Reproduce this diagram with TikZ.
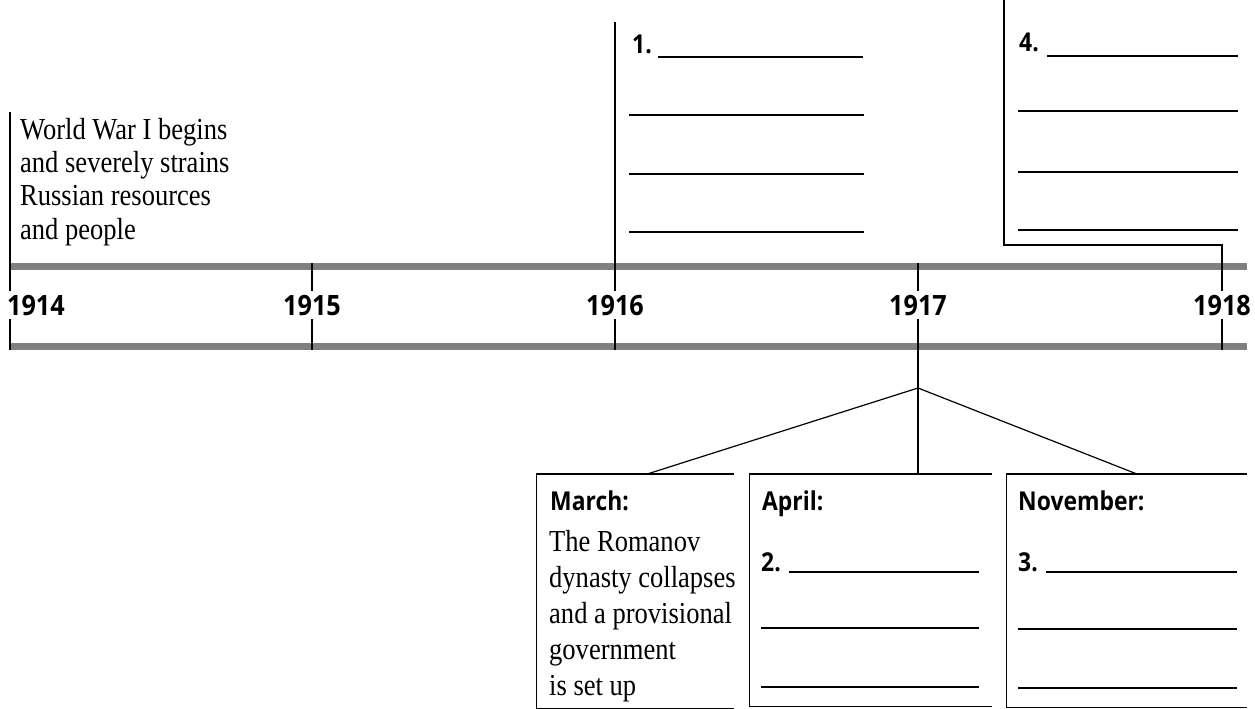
\documentclass[tikz,border=0pt]{standalone}
\usepackage{fontspec}
\setmainfont{Liberation Serif}[FakeStretch=0.87]
\newfontfamily\yearfont{Open Sans}[FakeStretch=0.9]
\newfontfamily\labfont{Open Sans}[FakeStretch=0.88]
\usetikzlibrary{calc}
\definecolor{barcol}{HTML}{808080}
\begin{document}
\begin{tikzpicture}[x=1pt,y=-1pt,
  bar/.style={draw=barcol,line width=7pt},
  rule/.style={draw=black,line width=1.2pt},
  year/.style={font=\yearfont\bfseries\fontsize{28}{28}\selectfont,fill=white,inner xsep=2pt,inner ysep=4pt,anchor=base},
  lab/.style={font=\labfont\bfseries\fontsize{26}{26}\selectfont,inner sep=0pt,anchor=base west},
  body/.style={font=\fontsize{30.5}{33.3}\selectfont,inner sep=0pt,anchor=north west,align=left},
  boxbody/.style={font=\fontsize{30.5}{36}\selectfont,inner sep=0pt,anchor=north west,align=left},
  blank/.style={line width=2.7pt},
  blankthin/.style={line width=1.3pt},
  frame/.style={draw=none,inner sep=0pt,anchor=north west}
]
\useasboundingbox (0,0) rectangle (1255,709);

% timeline bars
\coordinate (barAL) at (10,266.5);
\coordinate (barAR) at (1247,266.5);
\coordinate (barBL) at (10,346.5);
\coordinate (barBR) at (1247,346.5);
\draw[bar] (barAL) -- (barAR);
\draw[bar] (barBL) -- (barBR);

% tick lines
\coordinate (t14a) at (10,112);   \coordinate (t14b) at (10,350);
\coordinate (t15a) at (312,263);  \coordinate (t15b) at (312,350);
\coordinate (t16a) at (615,22);   \coordinate (t16b) at (615,350);
\coordinate (t17a) at (918,263);
\coordinate (apex) at (918,388);
\coordinate (t18a) at (1004,0);   \coordinate (t18c) at (1004,245);
\coordinate (t18d) at (1222,245); \coordinate (t18b) at (1222,350);
\draw[rule] (t14a) -- (t14b);
\draw[rule] (t15a) -- (t15b);
\draw[rule] (t16a) -- (t16b);
\draw[rule] (t17a) -- (apex);
\draw[rule] (t18a) -- (t18c) -- (t18d) -- (t18b);

% year labels
\node[year,anchor=base west] (y1914) at (5,315) {1914};
\node[year] (y1915) at (312,315) {1915};
\node[year] (y1916) at (615,315) {1916};
\node[year] (y1917) at (918,315) {1917};
\node[year] (y1918) at (1222,315) {1918};

% 1914 text
\node[body] (ww1) at (20,118) {World War I begins\\and severely strains\\Russian resources\\and people};

% 1916 box
\node[lab] (n1) at (632,53) {1.};
\draw[blankthin] (658,57) -- (747,57);
\draw[blank] (747,57) -- (863,57);
\draw[blank] (629,115) -- (864,115);
\draw[blank] (629,174) -- (864,174);
\draw[blank] (629,232) -- (864,232);

% 1918 box
\node[lab] (n4) at (1019,52) {4.};
\draw[blankthin] (1047,56) -- (1193,56);
\draw[blank] (1193,56) -- (1238,56);
\draw[blank] (1018,111) -- (1238,111);
\draw[blank] (1018,172) -- (1238,172);
\draw[blank] (1018,230) -- (1238,230);

% bottom boxes
\node[frame,minimum width=196.6pt,minimum height=234.3pt] (march) at (536.7,474) {};
\node[frame,minimum width=242.7pt,minimum height=232pt] (april) at (749.3,474) {};
\node[frame,minimum width=240pt,minimum height=233pt] (nov) at (1006.7,474) {};
\draw[rule] (march.north east) -- (march.north west) -- (march.south west) -- (march.south east);
\draw[rule] (april.north east) -- (april.north west) -- (april.south west) -- (april.south east);
\draw[rule] (nov.north east) -- (nov.north west) -- (nov.south west) -- (nov.south east);

% connectors from 1917
\draw[rule] (apex) -- ([xshift=12pt]march.north);
\draw[rule] (apex) -- (apex |- april.north);
\draw[rule] (apex) -- ([xshift=10pt]nov.north);

% March text
\node[lab] (marchlab) at (550,510) {March:};
\node[boxbody] (marchtxt) at (549,530) {The Romanov\\dynasty collapses\\and a provisional\\government\\is set up};

% April
\node[lab] (aprillab) at (762,510) {April:};
\node[lab] (n2) at (761,571) {2.};
\draw[blankthin] (789,572) -- (877,572);
\draw[blank] (877,572) -- (979,572);
\draw[blank] (761,628) -- (979,628);
\draw[blank] (761,687) -- (979,687);

% November
\node[lab] (novlab) at (1018,510) {November:};
\node[lab] (n3) at (1018,571) {3.};
\draw[blankthin] (1046,572) -- (1120,572);
\draw[blank] (1120,572) -- (1237,572);
\draw[blank] (1018,629) -- (1237,629);
\draw[blank] (1018,688) -- (1237,688);
\end{tikzpicture}
\end{document}
